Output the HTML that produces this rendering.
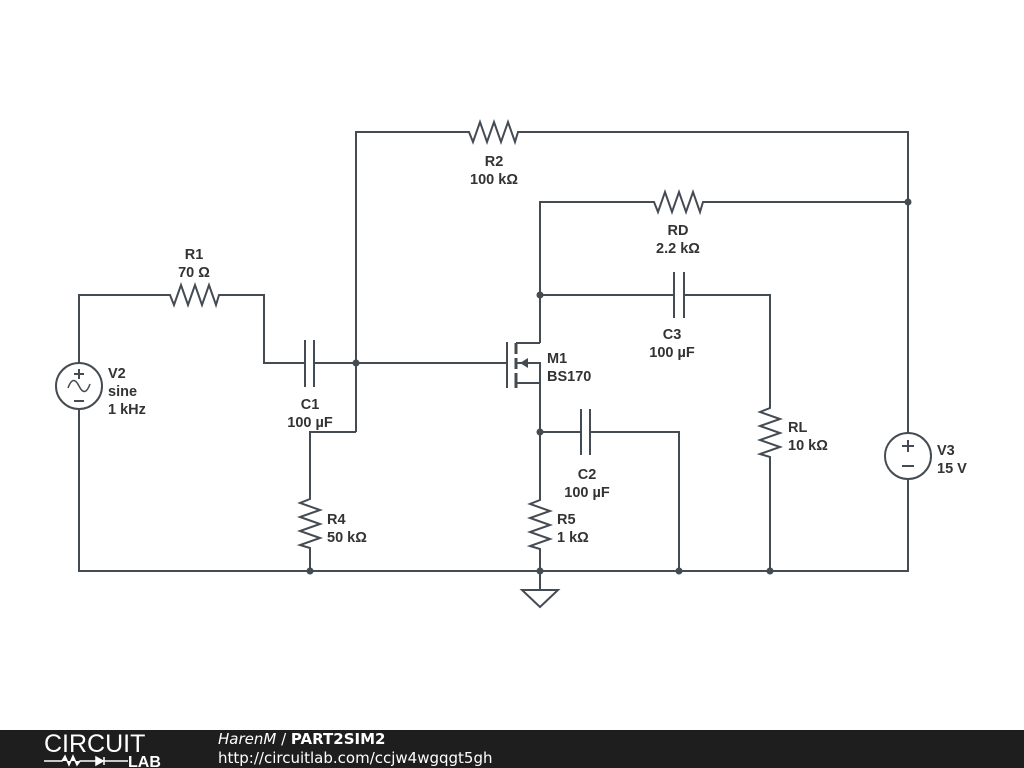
<!DOCTYPE html>
<html><head><meta charset="utf-8"><style>
body{margin:0;width:1024px;height:768px;background:#fff;overflow:hidden;position:relative}
svg{position:absolute;left:0;top:0}
text{font-family:"Liberation Sans",Arial,sans-serif;font-weight:bold;font-size:14.5px;fill:#333}
.ft{position:absolute;left:0;top:730px;width:1024px;height:38px;background:#1e1e1e}
</style></head><body>
<svg width="1024" height="768" viewBox="0 0 1024 768">
<defs>
<path id="rh" d="M-27,0 L-24,0 L-20,10 L-13,-10 L-6,10 L1,-10 L8,10 L15,-10 L22,10 L25,0 L27,0" fill="none"/>
<path id="rv" d="M0,-27 L0,-24 L-10,-20 L10,-13 L-10,-6 L10,1 L-10,8 L10,15 L-10,22 L0,25 L0,27" fill="none"/>
</defs>
<g stroke="#444b52" stroke-width="2" fill="none">
<path d="M356,432 L356,132 L466,132 M520,132 L908,132 L908,433"/>
<use href="#rh" x="493" y="132"/>
<path d="M540,343 L540,202 L652,202 M705,202 L908,202"/>
<use href="#rh" x="678" y="202"/>
<path d="M540,295 L674,295 M684,295 L770,295 L770,405 M770,459 L770,571"/>
<path d="M674,272 L674,318 M684,272 L684,318"/>
<use href="#rv" x="770" y="432"/>
<path d="M79,363 L79,295 L167,295 M221,295 L264,295 L264,363 L305,363 M314,363 L507,363"/>
<path d="M305,340 L305,387 M314,340 L314,387"/>
<use href="#rh" x="194" y="295"/>
<circle cx="79" cy="386" r="23"/>
<path d="M79,409 L79,571 L908,571 L908,479"/>
<circle cx="908" cy="456" r="23"/>
<path d="M356,432 L310,432 L310,496 M310,550 L310,571"/>
<use href="#rv" x="310" y="523"/>
<path d="M507,342 L507,388"/>
<path d="M516,343 L516,354 M516,358 L516,369 M516,373 L516,388" stroke-width="3"/>
<path d="M516,343 L540,343 M516,363 L540,363 L540,383 M516,383 L540,383 L540,498 M540,550 L540,590"/>
<use href="#rv" x="540" y="524"/>
<path d="M540,432 L581,432 M590,432 L679,432 L679,571"/>
<path d="M581,409 L581,455 M590,409 L590,455"/>
<path d="M522,590 L558,590 L540,607 Z"/>
<path d="M79,369 L79,379 M74,374 L84,374 M74,401 L84,401"/>
<path d="M68,388 Q73,374 79,386 Q85,398 90,384" stroke-width="1.5"/>
<path d="M908,440 L908,452 M902,446 L914,446 M902,466 L914,466"/>
</g>
<path d="M520,363 L528,358 L528,368 Z" fill="#444b52"/>
<g fill="#444b52">
<circle cx="356" cy="363" r="3.5"/><circle cx="908" cy="202" r="3.5"/><circle cx="540" cy="295" r="3.5"/>
<circle cx="540" cy="432" r="3.5"/><circle cx="310" cy="571" r="3.5"/><circle cx="540" cy="571" r="3.5"/>
<circle cx="679" cy="571" r="3.5"/><circle cx="770" cy="571" r="3.5"/>
</g>
<g text-anchor="middle">
<text x="494" y="166">R2</text><text x="494" y="184">100 kΩ</text>
<text x="678" y="235">RD</text><text x="678" y="253">2.2 kΩ</text>
<text x="194" y="259">R1</text><text x="194" y="277">70 Ω</text>
<text x="672" y="339">C3</text><text x="672" y="357">100 µF</text>
<text x="310" y="409">C1</text><text x="310" y="427">100 µF</text>
<text x="587" y="479">C2</text><text x="587" y="497">100 µF</text>
</g>
<text x="108" y="378">V2</text><text x="108" y="396">sine</text><text x="108" y="414">1 kHz</text>
<text x="547" y="363">M1</text><text x="547" y="381">BS170</text>
<text x="327" y="524">R4</text><text x="327" y="542">50 kΩ</text>
<text x="557" y="524">R5</text><text x="557" y="542">1 kΩ</text>
<text x="788" y="432">RL</text><text x="788" y="450">10 kΩ</text>
<text x="937" y="455">V3</text><text x="937" y="473">15 V</text>
</svg>
<div class="ft">
<svg width="180" height="38" style="left:0;top:0">
<text x="44" y="22" style="font-weight:normal;font-size:25px;fill:#fff">CIRCUIT</text>
<path d="M44,31 L62,31 L65,26 L69,35 L73,26 L77,35 L80,31 L96,31 M96,27 L96,35 L103,31 Z M104,27 L104,35 M104,31 L128,31" stroke="#fff" stroke-width="1.5" fill="#fff"/>
<text x="128" y="37" style="font-size:16px;fill:#fff">LAB</text>
</svg>
<div style="position:absolute;left:218px;top:0px;font:15px 'DejaVu Sans',sans-serif;color:#fff;line-height:19px"><i>HarenM</i> / <b>PART2SIM2</b><br>http://circuitlab.com/ccjw4wgqgt5gh</div>
</div>
</body></html>
